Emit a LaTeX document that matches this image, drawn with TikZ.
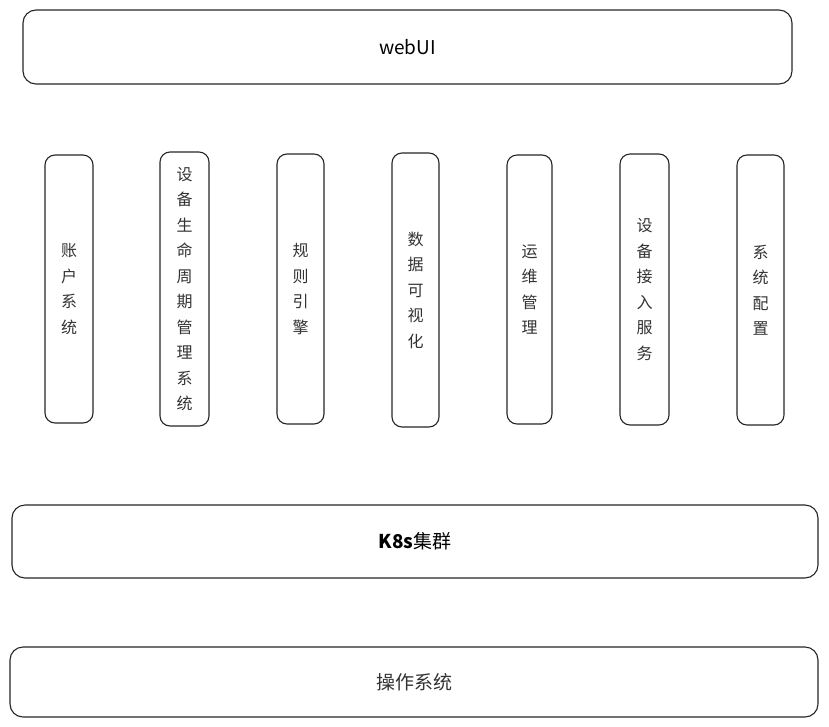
\documentclass[tikz,border=0pt]{standalone}
\usepackage{fontspec}
\newfontfamily\cjk{Noto Sans CJK SC}
\tikzset{
  layer/.style={draw=black!85, line width=1.1pt, rounded corners=13pt, fill=white,
    font=\cjk\fontsize{19}{22}\selectfont, inner sep=0pt},
  module/.style={draw=black!85, line width=1.1pt, rounded corners=10pt, fill=white,
    minimum width=47pt, minimum height=270pt, inner sep=0pt, align=center,
    font=\cjk\fontsize{16}{25.5}\selectfont, text=black!80},
}
\begin{document}
\begin{tikzpicture}[x=1pt,y=-1pt]
\useasboundingbox (0,0) rectangle (829,726);
%%% top layer
\node[layer, minimum width=769pt, minimum height=74pt] (webui) at (407.5,47) {webUI};
%%% the seven service modules
\node[module, minimum width=48pt, minimum height=268pt] (account) at (69,289) {账\\户\\系\\统};
\node[module, minimum width=49pt, minimum height=274pt] (lifecycle) at (184.5,289) {设\\备\\生\\命\\周\\期\\管\\理\\系\\统};
\node[module, minimum height=270pt] (rules) at (300.5,289) {规\\则\\引\\擎};
\node[module, minimum height=274pt] (dataviz) at (415.5,290) {数\\据\\可\\视\\化};
\node[module, minimum width=45pt, minimum height=269pt] (ops) at (529.5,289.5) {运\\维\\管\\理};
\node[module, minimum width=49pt, minimum height=271pt] (access) at (644.5,289.5) {设\\备\\接\\入\\服\\务};
\node[module, minimum height=270pt] (config) at (760.5,290) {系\\统\\配\\置};
%%% bottom layers
\node[layer, minimum width=806pt, minimum height=73pt] (k8s) at (415,541.5) {\textbf{K8s}集群};
\node[layer, minimum width=808pt, minimum height=70pt, text=black!80] (os) at (414,682) {操作系统};
\end{tikzpicture}
\end{document}
